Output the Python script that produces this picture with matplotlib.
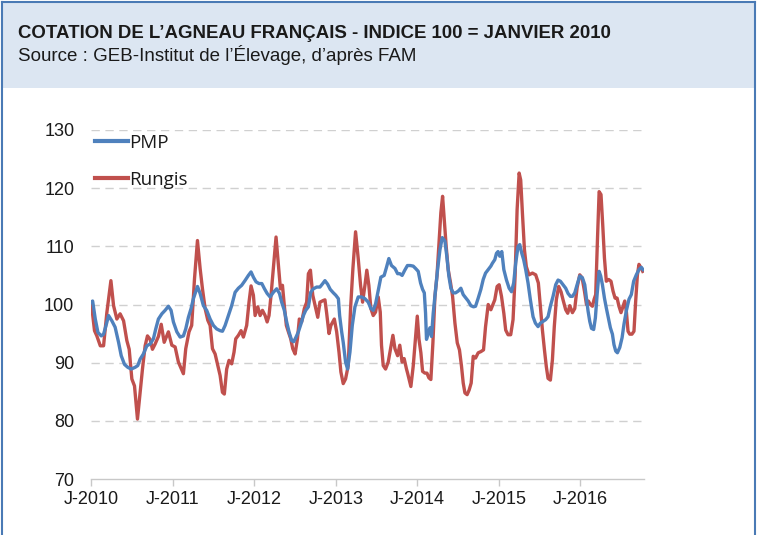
import numpy as np
import pandas as pd
import matplotlib
matplotlib.use("Agg")
import matplotlib.pyplot as plt
from matplotlib.patches import Rectangle

# ---------------- data (weeks since 2010-01-01, index values) ----------------
pmp_weeks = [0, 0.9, 2.6, 4.3, 6.4, 7.9, 9.4, 11.1, 13.2, 15.3, 17.5, 19.2, 21.3, 23.4, 25.6,
             28.1, 29.8, 31.3, 33.4, 35.6, 37.7, 39.8, 41.3, 43, 45.2, 47.3, 49.4, 51.1, 52.6,
             54.8, 56.9, 59, 60.5, 62.2, 63.9, 65.4, 68, 69.7, 71.8, 73.9, 76.1, 78.2, 80.3,
             82.5, 84, 85.7, 87.8, 89.9, 92.1, 94.2, 96.3, 98.4, 100.6, 102.3, 103.8, 105.5,
             107.4, 109.2, 110.9, 112.6, 114.5, 116.6, 118.7, 120.5, 121.9, 123.6, 125.1,
             126.6, 128.3, 129.6, 131.1, 132.6, 134.3, 135.8, 137.3, 139, 140.5, 142.2, 144.3,
             146.4, 148.2, 149.6, 151.3, 153, 155, 156.5, 158.2, 159, 160.3, 161.3, 162.8,
             164.1, 165.6, 167.1, 168.8, 170.9, 173, 175.2, 177.3, 179, 180.5, 182, 183.7,
             185.4, 187.5, 189, 190.5, 192.2, 194.4, 196.1, 197.5, 199, 200.7, 202.4, 204.2,
             206.1, 207.6, 209.3, 210.8, 212.1, 213.2, 214, 214.6, 215.7, 216.8, 217.8, 218.9,
             220.4, 221.7, 223.2, 224.7, 226.4, 227.6, 228.9, 230.2, 231.7, 233.2, 234.9,
             236.6, 238.1, 239.8, 241.3, 243, 244.7, 246, 247.7, 249.4, 250.9, 252.4, 254.1,
             255.8, 256.8, 258.3, 259.4, 260.4, 261.5, 262.8, 264.1, 265.8, 267.5, 269, 270.4,
             271.7, 273.2, 274.3, 275.6, 276.8, 278.1, 279.6, 281.1, 282.8, 284.3, 286, 287.5,
             289.2, 290.9, 292.4, 293.9, 295.6, 297.3, 298.8, 300.3, 302, 303.7, 305.2, 306.7,
             308, 309.5, 311, 312.7, 314.4, 315.9, 317, 318, 319.1, 320.2, 321.6, 322.7, 323.8,
             325.1, 326.1, 327.2, 328.5, 329.7, 331, 332.3, 333.6, 334.6, 335.7, 336.8, 338.3,
             339.8, 341, 342.5, 344.2, 345.7, 347.2, 348.9, 350.6, 352.1, 353.2]
pmp_values = [100.4, 100.6, 97.5, 95.2, 94.6, 94.9, 96.3, 98.1, 97.2, 96.1, 93.5, 91.2, 89.7,
              89.2, 88.9, 89.2, 89.5, 90.6, 91.5, 92.9, 93.2, 94.1, 95.8, 97.5, 98.4, 99.0, 99.7,
              99.0, 97.0, 95.3, 94.4, 94.6, 95.8, 97.8, 99.3, 101.0, 103.1, 101.9, 99.8, 99.0,
              97.5, 96.4, 95.8, 95.5, 95.4, 96.4, 98.1, 99.8, 102.1, 102.8, 103.3, 104.1, 105.0,
              105.6, 104.7, 103.9, 103.6, 103.6, 102.7, 101.9, 101.3, 102.1, 102.7, 101.9, 100.4,
              99.0, 97.0, 95.3, 93.8, 93.6, 94.4, 95.3, 96.7, 98.1, 99.0, 99.6, 102.1, 102.7,
              103.0, 103.0, 103.6, 104.1, 103.5, 102.6, 102.0, 101.6, 101.0, 98.1, 95.3, 93.5,
              90.1, 88.9, 91.8, 96.4, 99.6, 101.3, 101.3, 101.0, 100.4, 99.3, 99.0, 100.1, 102.4,
              104.7, 105.0, 106.4, 107.9, 106.7, 106.2, 105.3, 105.3, 105.0, 105.9, 106.7, 106.7,
              106.6, 106.2, 105.7, 103.7, 102.6, 102.0, 98.5, 94.0, 95.1, 96.0, 94.5, 98.5,
              102.6, 106.0, 109.4, 111.5, 110.9, 108.3, 104.9, 102.8, 102.0, 102.0, 102.3, 102.8,
              101.7, 101.1, 100.6, 99.8, 99.6, 99.7, 101.1, 102.6, 104.3, 105.4, 106.0, 106.6,
              107.1, 107.7, 108.8, 109.1, 108.3, 109.1, 106.0, 104.2, 102.8, 102.2, 103.7, 107.1,
              110.0, 110.3, 108.8, 107.7, 106.0, 103.7, 100.8, 97.9, 96.8, 96.2, 96.8, 97.1,
              97.4, 97.9, 99.7, 101.4, 103.4, 104.2, 104.0, 103.4, 102.8, 101.9, 101.4, 101.4,
              102.0, 103.4, 104.9, 104.6, 103.4, 101.1, 98.9, 97.1, 95.9, 95.7, 97.7, 101.7,
              105.7, 104.9, 103.4, 101.1, 99.4, 97.7, 96.0, 94.9, 93.1, 92.0, 91.7, 92.6, 94.3,
              96.6, 98.9, 100.9, 101.7, 104.0, 105.1, 106.0, 106.4, 106.0]

rungis_weeks = [0, 2.1, 3.6, 5.8, 7.9, 10, 12.6, 14.3, 16.4, 18.5, 20.7, 22.8, 24.3, 26, 27.7,
                29.6, 31.3, 32.8, 34.5, 36, 37.7, 39.2, 40.9, 43, 44.8, 46.7, 49.4, 51.6, 53.7,
                55.8, 59, 60.5, 62.6, 64.3, 66.1, 68, 69.7, 71.2, 72.9, 74.6, 76.1, 77.6, 79.3,
                81, 82.5, 84, 85.2, 86.7, 88.2, 89.9, 91.4, 92.5, 94.2, 95.9, 97.4, 99.5, 101,
                102.3, 103.8, 104.9, 106.6, 108.1, 109.6, 111.3, 112.6, 113.8, 115.1, 116.6,
                118.3, 119.8, 121.1, 122.4, 123.6, 124.9, 126.2, 127.7, 129, 130.5, 132, 133.2,
                134.7, 136.4, 137.9, 139, 140.3, 141.8, 143.3, 145, 146.4, 148.6, 149.6, 150.7,
                152.2, 153.4, 155.6, 157.1, 158.6, 159.8, 161.3, 162.8, 164.5, 166, 167.5, 169.2,
                170.9, 172.4, 173.7, 175.2, 176.4, 177.7, 179, 180.5, 182, 183.7, 185, 185.8,
                186.9, 188.4, 190.1, 191.6, 193.1, 194.4, 196.1, 197.5, 199, 200.3, 201.8, 202.5,
                204.6, 206.1, 207.6, 208.7, 209.8, 211, 212.1, 213.6, 214.9, 216.1, 217.4, 218.7,
                220, 221.3, 222.5, 223.8, 224.9, 226, 227.2, 228.5, 230, 231.3, 232.8, 234.3,
                235.7, 237, 238.1, 239.2, 240.6, 241.9, 243.2, 244.5, 246, 247.7, 249.4, 251.1,
                252.4, 254.1, 255.8, 258.3, 259.8, 261.1, 262.6, 264.1, 265.3, 266.8, 268.5, 270,
                271.3, 272.6, 273.9, 274.9, 276, 277.3, 278.5, 280.2, 282.4, 284.5, 286.2, 287.5,
                288.8, 290.1, 291.3, 292.4, 293.9, 295.2, 296.4, 297.7, 299.2, 300.7, 302, 303.7,
                305, 306.3, 308, 309.5, 311, 312.7, 314.2, 315.7, 317, 318.2, 319.5, 320.8, 321.9,
                322.9, 324, 325.1, 326.3, 327.4, 328.5, 329.7, 331.2, 332.7, 334, 335.3, 336.6,
                337.8, 339.1, 340.4, 341.5, 342.5, 343.6, 344.7, 346.1, 347.4, 348.5, 349.6,
                350.6, 351.9, 353]
rungis_values = [100.4, 95.5, 94.6, 92.9, 92.9, 98.6, 104.1, 99.8, 97.5, 98.4, 97.2, 93.8, 92.3,
                 87.2, 86.0, 80.3, 84.9, 88.9, 92.9, 94.6, 94.0, 92.3, 93.2, 94.5, 96.6, 93.5,
                 95.3, 93.0, 92.7, 90.1, 88.1, 92.4, 95.3, 96.4, 104.4, 111.0, 106.2, 102.7, 99.3,
                 97.3, 96.4, 92.4, 91.5, 89.5, 87.8, 84.9, 84.6, 88.9, 90.4, 89.8, 91.8, 94.1,
                 94.7, 95.5, 94.4, 96.4, 100.4, 103.2, 101.6, 98.1, 99.6, 98.1, 99.0, 98.1, 97.0,
                 98.1, 101.6, 106.2, 111.6, 106.8, 102.7, 103.3, 99.8, 96.4, 95.3, 94.1, 92.4,
                 91.5, 94.1, 97.5, 97.0, 99.3, 100.4, 105.3, 105.9, 101.6, 99.8, 97.8, 100.4,
                 100.7, 100.8, 98.5, 95.0, 96.4, 97.5, 95.3, 91.8, 88.4, 86.4, 87.2, 89.5, 99.3,
                 106.2, 112.5, 107.9, 103.3, 100.4, 103.3, 105.9, 103.3, 99.3, 98.1, 98.7, 101.3,
                 98.7, 93.0, 89.5, 88.9, 90.1, 92.4, 94.7, 92.4, 91.2, 93.0, 90.1, 90.7, 88.9,
                 88.2, 85.9, 89.4, 94.5, 98.0, 94.0, 91.7, 88.5, 88.2, 88.2, 87.4, 87.1, 93.4,
                 101.4, 104.9, 110.0, 115.8, 118.6, 114.6, 110.0, 106.0, 103.7, 101.4, 96.8, 93.4,
                 92.2, 89.4, 86.5, 84.8, 84.5, 85.3, 86.5, 91.1, 90.8, 91.7, 91.9, 92.2, 96.2,
                 100.0, 99.1, 100.8, 103.1, 103.4, 101.4, 98.5, 95.6, 94.8, 94.8, 97.4, 104.8,
                 116.3, 122.6, 121.4, 115.7, 109.4, 106.5, 105.1, 105.4, 105.1, 103.7, 99.7, 95.6,
                 92.2, 89.3, 87.3, 87.0, 90.5, 96.2, 100.8, 103.1, 102.2, 100.8, 99.1, 98.5, 99.8,
                 98.6, 99.3, 102.9, 105.1, 104.6, 102.3, 100.0, 100.6, 100.0, 99.7, 100.9, 101.7,
                 110.9, 119.4, 118.9, 113.7, 108.0, 104.0, 104.3, 104.0, 102.3, 101.1, 101.1, 99.7,
                 98.6, 99.7, 100.6, 98.9, 95.4, 94.9, 94.9, 95.4, 100.6, 105.1, 106.9, 106.3,
                 105.7]

series_names = ["PMP", "Rungis"]
series_colors = ["#4f81bd", "#c0504d"]
tick_years = [2010, 2011, 2012, 2013, 2014, 2015, 2016]
tick_labels = ["J-%d" % y for y in tick_years]
y_ticks = [70, 80, 90, 100, 110, 120, 130]

title = "COTATION DE L\u2019AGNEAU FRAN\u00c7AIS - INDICE 100 = JANVIER 2010"
subtitle = "Source : GEB-Institut de l\u2019\u00c9levage, d\u2019apr\u00e8s FAM"

# ---------------- figure ----------------
W, H = 757, 535
fig = plt.figure(figsize=(W / 100, H / 100), dpi=100)
fig.patch.set_facecolor("white")

border = "#4a7ab5"
fig.patches.append(Rectangle((2 / W, 1 - 88 / H), (W - 4) / W, 86 / H, transform=fig.transFigure,
                             facecolor="#dce6f2", edgecolor="none", zorder=0))
fig.add_artist(plt.Line2D([2 / W, 2 / W], [0, 1 - 2 / H], color=border, lw=1.5, transform=fig.transFigure))
fig.add_artist(plt.Line2D([(W - 2) / W, (W - 2) / W], [0, 1 - 2 / H], color=border, lw=1.5, transform=fig.transFigure))
fig.add_artist(plt.Line2D([2 / W, (W - 2) / W], [1 - 2 / H, 1 - 2 / H], color=border, lw=1.5, transform=fig.transFigure))

fig.text(18 / W, 1 - 33 / H, title, fontsize=13.45, fontweight="bold", family="Liberation Sans",
         color="#1a1a1a", va="center", ha="left")
fig.text(18 / W, 1 - 55 / H, subtitle, fontsize=13.5, family="Liberation Sans",
         color="#1a1a1a", va="center", ha="left")

left, right, top, bottom = 91, 643.5, 130, 479
ax = fig.add_axes([left / W, 1 - bottom / H, (right - left) / W, (bottom - top) / H])
ax.set_facecolor("none")

start = pd.Timestamp("2010-01-01")
d_pmp = start + pd.to_timedelta(np.array(pmp_weeks) * 7, unit="D")
d_run = start + pd.to_timedelta(np.array(rungis_weeks) * 7, unit="D")

ax.plot(d_pmp, pmp_values, color=series_colors[0], lw=2.4, label=series_names[0],
        solid_joinstyle="round", zorder=4)
ax.plot(d_run, rungis_values, color=series_colors[1], lw=2.4, label=series_names[1],
        solid_joinstyle="round", zorder=3)

ax.set_ylim(70, 130)
ax.set_yticks(y_ticks)
ax.set_xlim(start - pd.Timedelta(days=1), start + pd.Timedelta(weeks=353.5))
ax.set_xticks([pd.Timestamp("%d-01-01" % y) for y in tick_years])
ax.set_xticklabels(tick_labels)

for v in y_ticks[1:]:
    ax.axhline(v, color="#d0d0d0", lw=1.0, ls=(0, (6, 4)), zorder=1)

for s in ["left", "right", "top"]:
    ax.spines[s].set_visible(False)
ax.spines["bottom"].set_color("#c8c8c8")
ax.spines["bottom"].set_linewidth(1.0)
ax.tick_params(axis="y", length=0, pad=12, labelsize=13, labelcolor="#1a1a1a")
ax.tick_params(axis="x", length=5, width=1.0, color="#c8c8c8", pad=4, labelsize=13,
               labelcolor="#1a1a1a")
for lab in ax.get_xticklabels() + ax.get_yticklabels():
    lab.set_family("Liberation Sans")

leg = ax.legend(loc="upper left", bbox_to_anchor=(4 / (right - left), 1.0 - 4 / (bottom - top)),
                frameon=False, borderaxespad=0, borderpad=0, handlelength=1.75, handletextpad=0.05,
                labelspacing=1.0, prop={"family": "Open Sans", "size": 13.5})
for t in leg.get_texts():
    t.set_color("#1a1a1a")
for ln in leg.get_lines():
    ln.set_linewidth(3.0)

fig.savefig("out.png", dpi=100)
